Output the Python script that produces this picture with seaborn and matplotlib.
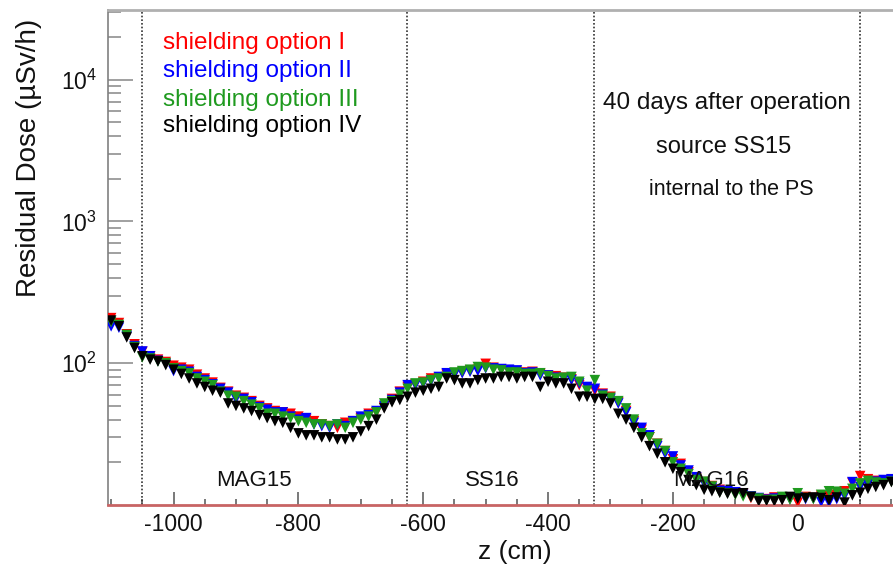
import numpy as np
import pandas as pd
import matplotlib
matplotlib.use("Agg")
import matplotlib.pyplot as plt
import seaborn as sns
from matplotlib.ticker import MultipleLocator, LogLocator, NullFormatter, FixedLocator

# ---------------- data ----------------
z_cm = [-1100, -1087.5, -1075, -1062.5, -1050, -1037.5, -1025, -1012.5, -1000, -987.5,
        -975, -962.5, -950, -937.5, -925, -912.5, -900, -887.5, -875, -862.5,
        -850, -837.5, -825, -812.5, -800, -787.5, -775, -762.5, -750, -737.5,
        -725, -712.5, -700, -687.5, -675, -662.5, -650, -637.5, -625, -612.5,
        -600, -587.5, -575, -562.5, -550, -537.5, -525, -512.5, -500, -487.5,
        -475, -462.5, -450, -437.5, -425, -412.5, -400, -387.5, -375, -362.5,
        -350, -337.5, -325, -312.5, -300, -287.5, -275, -262.5, -250, -237.5,
        -225, -212.5, -200, -187.5, -175, -162.5, -150, -137.5, -125, -112.5,
        -100, -87.5, -75, -62.5, -50, -37.5, -25, -12.5, 0, 12.5,
        25, 37.5, 50, 62.5, 75, 87.5, 100, 112.5, 125, 137.5, 150]

dose_opt1 = [208, 192, 160, 136, 120, 111, 106, 102, 96, 93,
             90, 83, 78, 73, 67, 63, 59, 57, 54, 50,
             48, 46, 45, 44, 42, 40, 39, 37, 36, 35,
             38, 39, 41, 44, 45, 49, 56, 63, 68, 71,
             74, 78, 79, 83, 84, 86, 89, 90, 99, 93,
             90, 88, 87, 86, 87, 84, 82, 81, 79, 77,
             70, 67, 64, 61, 58, 53, 46, 39, 34, 30,
             27, 24, 21, 19.5, 17, 15.5, 14.5, 13.6, 12.8, 12.3,
             12.2, 12.0, 11.2, 11.0, 11.0, 11.3, 11.0, 11.2, 10.4, 11.4,
             11.2, 11.6, 11.5, 11.8, 12.5, 14.3, 16.0, 15.2, 14.8, 14.6, 15.0]

dose_opt2 = [182, 178, 155, 132, 121, 112, 104, 99, 88, 90,
             87, 80, 76, 71, 66, 62, 56, 56, 53, 49,
             47, 45, 45, 42, 40, 41, 37, 36, 35, 37,
             36, 39, 42, 43, 46, 50, 55, 62, 70, 70,
             72, 75, 80, 85, 83, 85, 87, 88, 92, 92,
             91, 90, 89, 85, 86, 82, 82, 79, 78, 76,
             72, 68, 66, 60, 56, 52, 45, 38, 35, 31,
             26, 23, 22, 19, 17.5, 15.7, 14.2, 13.2, 12.6, 12.5,
             12.3, 11.8, 11.5, 11.2, 10.9, 11.1, 11.2, 11.0, 11.3, 11.0,
             11.1, 10.5, 10.4, 11.0, 11.6, 14.5, 13.4, 14.0, 14.6, 15.0, 15.2]

dose_opt3 = [195, 186, 158, 130, 110, 108, 103, 100, 92, 88,
             85, 78, 74, 70, 63, 59, 58, 54, 51, 48,
             44, 44, 42, 41, 39, 38, 37, 37, 36, 37,
             35, 38, 40, 42, 45, 52, 54, 60, 66, 72,
             73, 76, 78, 80, 86, 88, 90, 94, 93, 90,
             89, 86, 86, 84, 84, 85, 81, 78, 79, 80,
             74, 64, 76, 59, 57, 54, 48, 40, 32, 30,
             27, 24, 20, 18, 16.5, 15, 14.6, 13.5, 12.3, 12.1,
             11.8, 11.5, 11.4, 11.1, 10.8, 10.9, 11.4, 10.9, 12.1, 11.2,
             11.0, 11.8, 12.5, 12.4, 12.0, 13.0, 14.2, 14.8, 14.4, 14.2, 14.6]

dose_opt4 = [200, 182, 152, 128, 112, 106, 103, 97, 90, 84,
             78, 72, 68, 64, 62, 52, 50, 48, 46, 43,
             41, 39, 38, 35, 32, 31, 31, 30, 30, 29,
             29, 30, 33, 36, 40, 48, 53, 55, 58, 62,
             64, 66, 68, 78, 76, 72, 72, 76, 78, 78,
             80, 80, 78, 80, 80, 68, 74, 72, 72, 66,
             58, 58, 56, 56, 52, 44, 40, 35, 30, 26,
             23, 20, 18, 17, 15, 13.8, 12.8, 12.5, 12.2, 12.0,
             12.0, 12.1, 11.4, 10.6, 10.7, 10.6, 10.8, 11.4, 11.1, 11.2,
             11.3, 11.2, 10.8, 11.3, 10.4, 11.7, 12.2, 13.0, 13.4, 13.8, 14.5]

series_names = ["shielding option I", "shielding option II",
                "shielding option III", "shielding option IV"]
series_colors = ["#ff0000", "#0000ff", "#1f9a1f", "#000000"]

y_major_ticks = [1e2, 1e3, 1e4]
region_bounds = [-1050, -626, -326, 100]
region_names = ["MAG15", "SS16", "MAG16"]
region_label_x = [-872, -490, -139]

# ---------------- build table ----------------
frames = []
for name, vals in zip(series_names, [dose_opt1, dose_opt2, dose_opt3, dose_opt4]):
    frames.append(pd.DataFrame({"z": z_cm, "dose": vals, "option": name}))
df = pd.concat(frames, ignore_index=True)

# ---------------- style ----------------
sns.set_theme(style="ticks")
plt.rcParams['font.family'] = ['Liberation Sans', 'DejaVu Sans']
plt.rcParams['mathtext.fontset'] = 'custom'
plt.rcParams['mathtext.rm'] = 'Liberation Sans'
plt.rcParams['mathtext.it'] = 'Liberation Sans:italic'
plt.rcParams['mathtext.bf'] = 'Liberation Sans:bold'
plt.rcParams['axes.unicode_minus'] = False

W, H = 893, 566
fig = plt.figure(figsize=(W / 100, H / 100), dpi=100)
fig.patch.set_facecolor("white")
ax = fig.add_axes([108 / W, 61 / H, 785 / W, 495 / H])
ax.set_facecolor("white")

sns.scatterplot(data=df, x="z", y="dose", hue="option",
                palette=dict(zip(series_names, series_colors)),
                hue_order=series_names, marker="v", s=58, linewidth=0,
                legend=False, ax=ax, zorder=3)

ax.set_yscale("log")
ax.set_ylim(10, 3.1e4)
ax.set_xlim(-1105, 152.6)

for xb in region_bounds:
    ax.axvline(xb, color="#333333", lw=1.2, ls=(0, (1, 1.2)), zorder=2)

# ticks
ax.xaxis.set_major_locator(MultipleLocator(200))
ax.xaxis.set_minor_locator(MultipleLocator(50))
ax.yaxis.set_major_locator(FixedLocator(y_major_ticks))
ax.yaxis.set_minor_locator(LogLocator(base=10, subs=np.arange(2, 10), numticks=20))
ax.yaxis.set_minor_formatter(NullFormatter())

ax.tick_params(axis="x", which="major", direction="in", length=9.5, width=1.1,
               color="#555555", labelsize=16.5, pad=6, labelcolor="#111111")
ax.tick_params(axis="x", which="minor", direction="in", length=4.5, width=1.1,
               color="#555555")
ax.tick_params(axis="y", which="major", direction="in", length=18, width=1.3,
               color="#999999", labelsize=16.5, pad=8, labelcolor="#111111")
ax.tick_params(axis="y", which="minor", direction="in", length=9, width=1.3,
               color="#999999")

ax.spines["right"].set_visible(False)
ax.spines["top"].set_color("#b0b0b0")
ax.spines["top"].set_linewidth(2)
ax.spines["left"].set_color("#808080")
ax.spines["left"].set_linewidth(1.2)
ax.spines["bottom"].set_color("#c86464")
ax.spines["bottom"].set_linewidth(2)
ax.grid(False)

# axis labels
ax.set_xlabel("z (cm)", fontsize=19, color="#111111")
ax.xaxis.set_label_coords((515 - 108) / 785, -(552 - 505) / 495)
ax.xaxis.label.set_va("center")
ax.set_ylabel("Residual Dose (µSv/h)", fontsize=20, color="#111111")
ax.yaxis.set_label_coords((29 - 108) / 785, (505 - 158) / 495)
ax.yaxis.label.set_va("center")

# region labels
for name, xl in zip(region_names, region_label_x):
    ax.text(xl, 14.9, name, ha="center", va="center", fontsize=16,
            color="#111111", zorder=4)

# legend-like text
leg_y = [43, 71, 100, 126]
for name, col, yy in zip(series_names, series_colors, leg_y):
    fig.text(163 / W, 1 - yy / H, name, color=col, fontsize=17.5,
             ha="left", va="center")

fig.text(727 / W, 1 - 103 / H, "40 days after operation", fontsize=17.5,
         ha="center", va="center", color="#111111")
fig.text(724 / W, 1 - 147 / H, "source SS15", fontsize=17,
         ha="center", va="center", color="#111111")
fig.text(731 / W, 1 - 190 / H, "internal to the PS", fontsize=15.5,
         ha="center", va="center", color="#111111")

fig.savefig("out.png", dpi=100, facecolor="white")
